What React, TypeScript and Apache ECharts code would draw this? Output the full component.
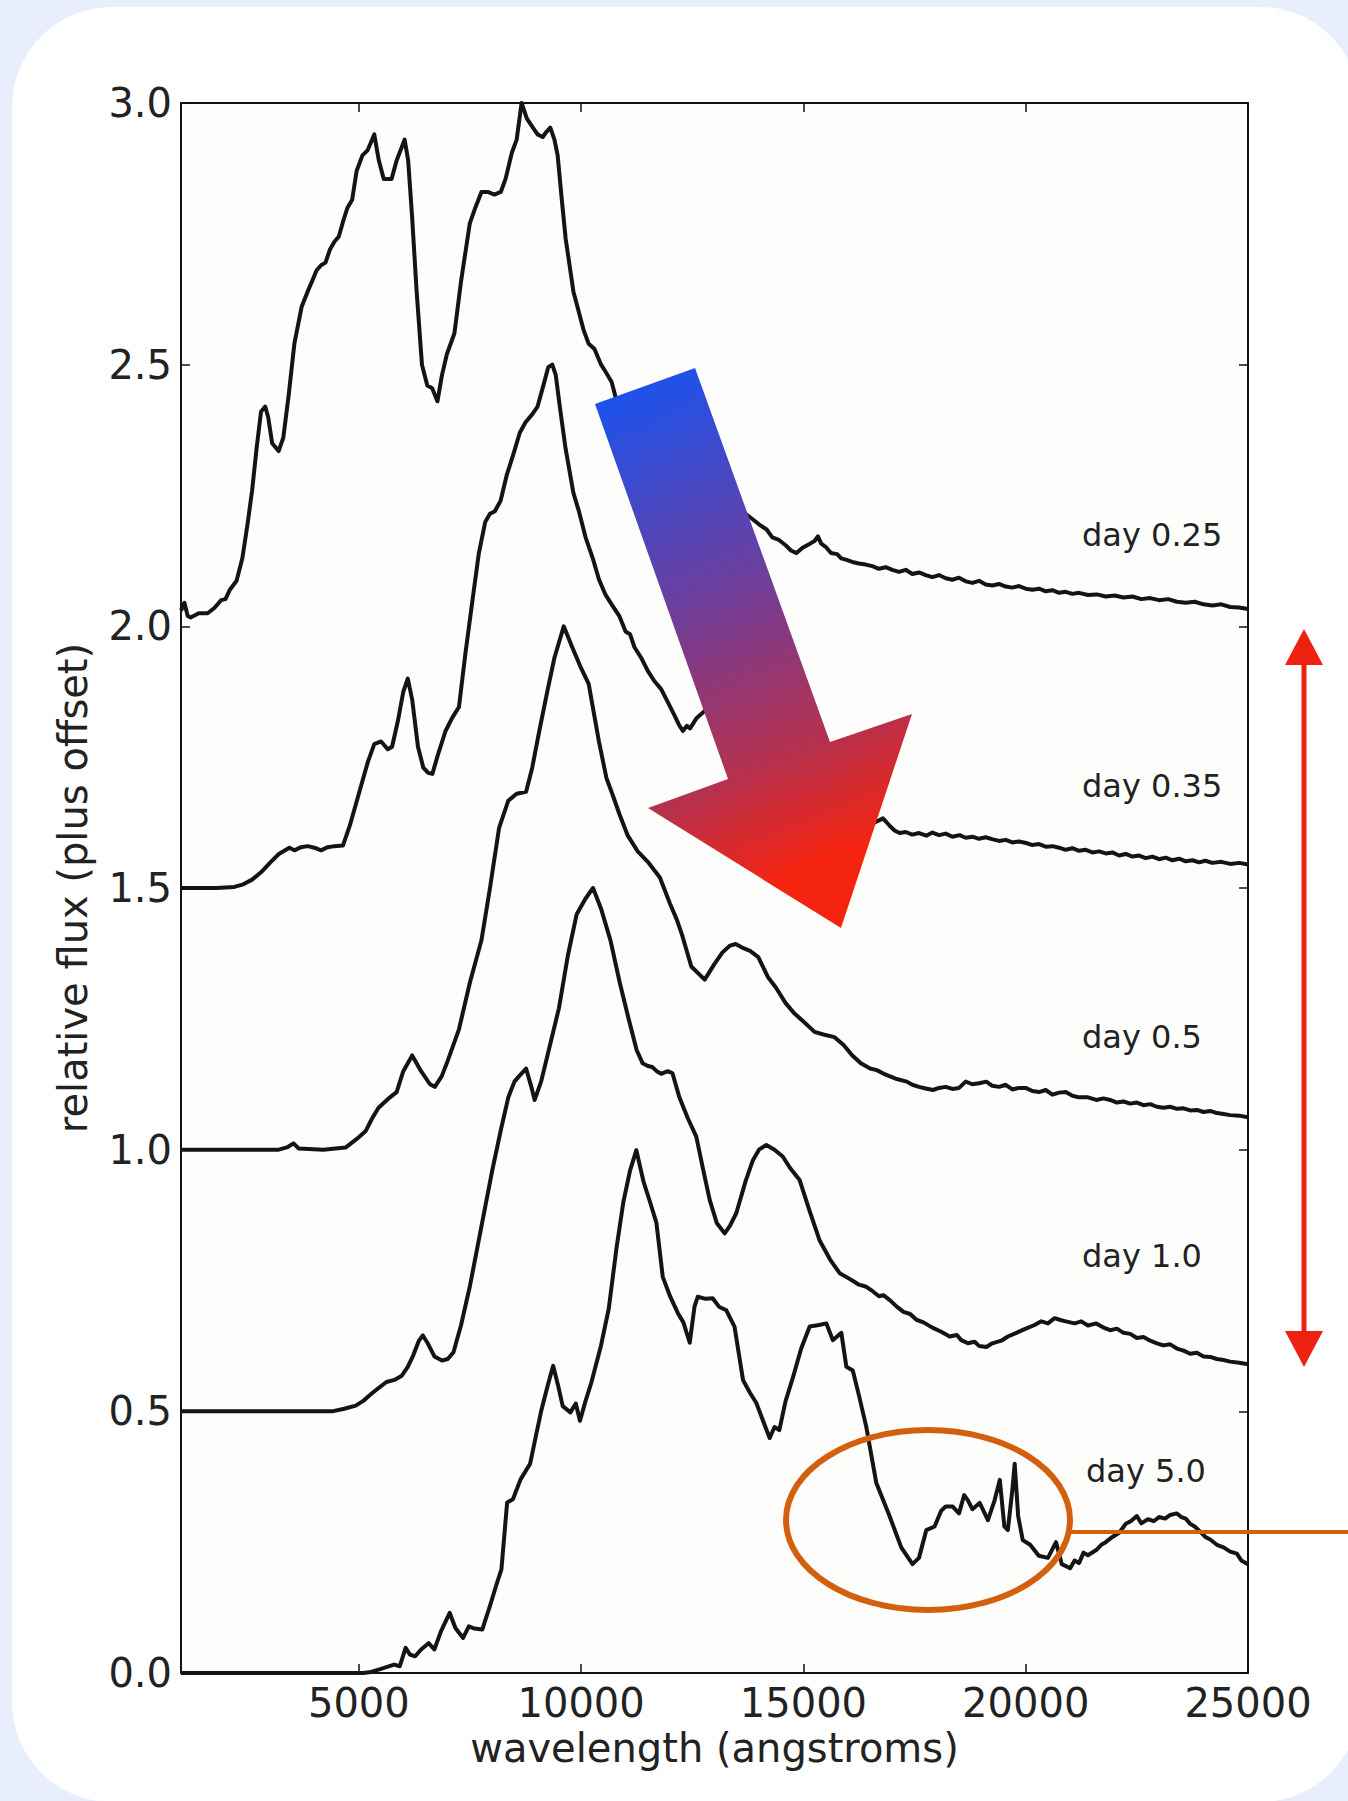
import React, { useEffect, useRef } from "react";
import * as echarts from "echarts";

// ---- data (wavelength in angstroms, relative flux plus offset) ----
const xTicks = [5000, 10000, 15000, 20000, 25000];
const dayLabels = ["day 0.25", "day 0.35", "day 0.5", "day 1.0", "day 5.0"];

const day025: [number, number][] = [
  [1000,2.03],[1077,2.045],[1150,2.02],[1217,2.017],[1400,2.025],[1600,2.025],[1750,2.035],[1904,2.05],[2000,2.052],[2100,2.07],[2250,2.087],[2380,2.13],[2498,2.196],[2600,2.26],[2700,2.34],[2800,2.41],[2894,2.42],[2960,2.40],[3050,2.35],[3196,2.335],[3300,2.36],[3420,2.44],[3550,2.54],[3712,2.61],[3850,2.64],[3950,2.66],[4048,2.68],[4150,2.69],[4250,2.695],[4350,2.72],[4450,2.735],[4550,2.745],[4650,2.775],[4745,2.80],[4850,2.815],[4950,2.87],[5081,2.90],[5200,2.91],[5347,2.94],[5450,2.89],[5560,2.855],[5737,2.855],[5850,2.89],[6030,2.93],[6110,2.89],[6200,2.78],[6300,2.64],[6420,2.50],[6540,2.46],[6650,2.455],[6768,2.43],[6870,2.48],[6980,2.52],[7150,2.56],[7300,2.66],[7496,2.77],[7620,2.80],[7758,2.83],[7900,2.83],[8050,2.825],[8193,2.83],[8300,2.855],[8442,2.905],[8550,2.93],[8661,3.0],[8780,2.97],[8900,2.955],[9020,2.94],[9136,2.935],[9220,2.945],[9307,2.953],[9400,2.93],[9472,2.90],[9560,2.82],[9653,2.74],[9740,2.69],[9826,2.64],[9950,2.60],[10060,2.565],[10170,2.54],[10300,2.53],[10450,2.50],[10560,2.485],[10686,2.467],[10800,2.43],[11100,2.38],[11500,2.33],[11900,2.30],[12400,2.27],[12900,2.25],[13300,2.24],[13566,2.23],[13700,2.215],[13850,2.205],[14000,2.195],[14173,2.185],[14300,2.17],[14450,2.165],[14600,2.155],[14720,2.145],[14845,2.14],[14980,2.15],[15150,2.158],[15250,2.163],[15326,2.172],[15400,2.158],[15500,2.152],[15620,2.14],[15760,2.138],[15850,2.13],[15971,2.127],[16100,2.123],[16250,2.12],[16400,2.118],[16550,2.115],[16700,2.11],[16850,2.113],[17000,2.108],[17150,2.104],[17300,2.108],[17450,2.1],[17600,2.103],[17750,2.098],[17900,2.094],[18050,2.098],[18200,2.092],[18350,2.089],[18500,2.093],[18650,2.086],[18800,2.083],[18950,2.087],[19100,2.08],[19250,2.078],[19400,2.081],[19550,2.076],[19700,2.074],[19850,2.077],[20000,2.072],[20150,2.07],[20300,2.072],[20450,2.067],[20600,2.069],[20750,2.064],[20900,2.066],[21050,2.062],[21200,2.064],[21400,2.06],[21600,2.061],[21800,2.057],[22000,2.059],[22200,2.055],[22400,2.057],[22600,2.052],[22800,2.054],[23000,2.05],[23200,2.052],[23400,2.047],[23600,2.045],[23800,2.047],[24000,2.042],[24200,2.04],[24400,2.042],[24600,2.037],[24800,2.036],[25000,2.033]
];

const day035: [number, number][] = [
  [1000,1.5],[1800,1.5],[2200,1.502],[2400,1.507],[2600,1.516],[2800,1.53],[3000,1.548],[3200,1.565],[3438,1.577],[3550,1.572],[3700,1.578],[3850,1.58],[4000,1.577],[4150,1.572],[4300,1.578],[4450,1.58],[4642,1.581],[4800,1.62],[5000,1.68],[5200,1.74],[5347,1.775],[5500,1.78],[5650,1.765],[5748,1.77],[5880,1.82],[6000,1.875],[6101,1.90],[6200,1.86],[6330,1.77],[6450,1.73],[6560,1.72],[6654,1.718],[6780,1.755],[6950,1.80],[7100,1.825],[7252,1.846],[7400,1.95],[7556,2.05],[7700,2.14],[7845,2.20],[7950,2.215],[8060,2.22],[8189,2.24],[8330,2.29],[8480,2.33],[8620,2.37],[8750,2.39],[8900,2.405],[9020,2.42],[9150,2.46],[9260,2.495],[9351,2.50],[9430,2.48],[9520,2.42],[9650,2.34],[9826,2.255],[9950,2.22],[10100,2.17],[10262,2.13],[10400,2.09],[10550,2.06],[10700,2.04],[10857,2.02],[11000,1.99],[11100,1.985],[11200,1.96],[11350,1.94],[11500,1.915],[11650,1.895],[11800,1.88],[11950,1.855],[12100,1.83],[12200,1.812],[12288,1.80],[12380,1.81],[12450,1.805],[12600,1.825],[12804,1.84],[13300,1.81],[14000,1.77],[14700,1.72],[15400,1.68],[16000,1.65],[16400,1.63],[16602,1.625],[16790,1.633],[16950,1.618],[17050,1.61],[17164,1.605],[17300,1.607],[17450,1.602],[17600,1.605],[17764,1.60],[17900,1.606],[18050,1.601],[18200,1.604],[18350,1.598],[18513,1.601],[18650,1.596],[18800,1.598],[18950,1.594],[19100,1.597],[19262,1.593],[19400,1.59],[19550,1.592],[19700,1.587],[19850,1.589],[20011,1.586],[20150,1.582],[20300,1.584],[20450,1.579],[20605,1.58],[20750,1.577],[20900,1.573],[21050,1.576],[21200,1.571],[21350,1.573],[21500,1.568],[21650,1.57],[21800,1.566],[21950,1.568],[22100,1.562],[22250,1.565],[22400,1.56],[22550,1.562],[22700,1.557],[22850,1.56],[23000,1.555],[23150,1.558],[23300,1.553],[23450,1.556],[23600,1.551],[23750,1.553],[23900,1.549],[24041,1.552],[24200,1.548],[24400,1.55],[24600,1.546],[24800,1.548],[25000,1.545]
];

const day05: [number, number][] = [
  [1000,1.0],[3200,1.0],[3400,1.005],[3531,1.012],[3650,1.002],[4200,1.0],[4700,1.004],[4947,1.02],[5150,1.035],[5300,1.06],[5443,1.08],[5700,1.10],[5850,1.11],[6000,1.15],[6200,1.18],[6400,1.15],[6600,1.125],[6708,1.12],[6863,1.14],[7000,1.17],[7252,1.23],[7500,1.32],[7758,1.40],[7950,1.50],[8155,1.615],[8362,1.667],[8550,1.68],[8762,1.684],[8900,1.73],[9059,1.80],[9250,1.88],[9400,1.94],[9609,2.00],[9800,1.96],[10000,1.92],[10170,1.89],[10400,1.78],[10570,1.71],[10700,1.68],[10867,1.64],[11050,1.60],[11273,1.57],[11500,1.55],[11771,1.52],[12000,1.47],[12150,1.44],[12272,1.41],[12478,1.35],[12779,1.325],[13000,1.355],[13180,1.377],[13350,1.39],[13476,1.393],[13650,1.385],[13800,1.38],[13985,1.368],[14200,1.33],[14380,1.31],[14600,1.28],[14800,1.26],[15000,1.245],[15250,1.225],[15450,1.22],[15700,1.215],[15904,1.20],[16100,1.18],[16292,1.165],[16500,1.155],[16650,1.152],[16808,1.145],[16950,1.14],[17100,1.135],[17325,1.13],[17450,1.124],[17600,1.12],[17750,1.117],[17915,1.114],[18050,1.118],[18200,1.12],[18350,1.116],[18500,1.118],[18650,1.13],[18800,1.125],[18950,1.127],[19114,1.13],[19250,1.122],[19400,1.12],[19550,1.124],[19700,1.115],[19850,1.118],[20000,1.118],[20150,1.112],[20300,1.11],[20450,1.114],[20600,1.105],[20750,1.109],[20900,1.11],[21050,1.103],[21200,1.10],[21400,1.1],[21587,1.095],[21750,1.098],[21900,1.095],[22050,1.09],[22200,1.092],[22350,1.088],[22500,1.09],[22650,1.085],[22800,1.087],[22950,1.082],[23100,1.08],[23250,1.082],[23400,1.078],[23550,1.079],[23700,1.075],[23850,1.076],[24000,1.072],[24150,1.074],[24300,1.07],[24450,1.068],[24600,1.066],[24800,1.065],[25000,1.062]
];

const day10: [number, number][] = [
  [1000,0.5],[4400,0.5],[4672,0.505],[4931,0.511],[5100,0.52],[5276,0.533],[5450,0.545],[5621,0.556],[5800,0.56],[5966,0.568],[6100,0.585],[6224,0.607],[6350,0.635],[6440,0.645],[6550,0.63],[6700,0.605],[6871,0.597],[7000,0.60],[7129,0.613],[7300,0.665],[7500,0.74],[7750,0.85],[8000,0.96],[8200,1.04],[8362,1.10],[8500,1.13],[8600,1.14],[8762,1.155],[8880,1.12],[8955,1.095],[9100,1.13],[9300,1.20],[9500,1.27],[9700,1.37],[9900,1.45],[10100,1.48],[10268,1.50],[10450,1.46],[10660,1.40],[10867,1.32],[11068,1.25],[11250,1.19],[11384,1.165],[11500,1.16],[11600,1.158],[11700,1.15],[11800,1.145],[11950,1.15],[12055,1.146],[12210,1.10],[12400,1.06],[12590,1.025],[12750,0.96],[12892,0.904],[13050,0.86],[13228,0.84],[13350,0.855],[13491,0.879],[13700,0.94],[13864,0.98],[14000,1.0],[14166,1.009],[14350,1.0],[14535,0.987],[14700,0.965],[14915,0.942],[15150,0.88],[15362,0.827],[15600,0.79],[15816,0.764],[16000,0.755],[16100,0.75],[16250,0.742],[16415,0.738],[16550,0.73],[16700,0.72],[16800,0.722],[16937,0.713],[17100,0.70],[17250,0.69],[17400,0.686],[17541,0.675],[17700,0.67],[17900,0.66],[18100,0.652],[18290,0.643],[18450,0.646],[18550,0.636],[18700,0.63],[18850,0.633],[18950,0.625],[19114,0.623],[19250,0.63],[19450,0.635],[19600,0.643],[19791,0.65],[19950,0.656],[20200,0.665],[20350,0.672],[20500,0.668],[20650,0.678],[20760,0.675],[20900,0.672],[21100,0.668],[21250,0.672],[21400,0.664],[21587,0.668],[21750,0.66],[21900,0.655],[22050,0.658],[22200,0.65],[22350,0.648],[22500,0.64],[22650,0.642],[22800,0.635],[22950,0.63],[23100,0.626],[23250,0.628],[23400,0.62],[23550,0.616],[23700,0.61],[23850,0.612],[24000,0.605],[24150,0.604],[24300,0.60],[24450,0.598],[24600,0.595],[24800,0.593],[25000,0.59]
];

const day50: [number, number][] = [
  [1000,0],[5100,0],[5276,0.002],[5500,0.008],[5793,0.016],[5922,0.013],[6052,0.048],[6150,0.035],[6267,0.032],[6400,0.045],[6569,0.057],[6698,0.045],[6850,0.08],[7043,0.115],[7172,0.086],[7345,0.067],[7474,0.089],[7600,0.085],[7776,0.083],[7948,0.128],[8100,0.17],[8207,0.198],[8336,0.326],[8466,0.332],[8638,0.37],[8853,0.40],[8983,0.453],[9100,0.50],[9250,0.55],[9371,0.587],[9480,0.55],[9586,0.51],[9759,0.498],[9880,0.515],[9974,0.482],[10100,0.52],[10233,0.556],[10448,0.626],[10621,0.696],[10793,0.81],[10950,0.90],[11100,0.96],[11242,0.999],[11400,0.94],[11550,0.90],[11694,0.86],[11836,0.757],[12000,0.72],[12174,0.688],[12300,0.67],[12443,0.631],[12550,0.70],[12624,0.719],[12800,0.715],[12959,0.716],[13100,0.70],[13266,0.693],[13450,0.662],[13641,0.56],[13800,0.535],[13941,0.516],[14100,0.48],[14241,0.449],[14350,0.47],[14458,0.464],[14600,0.52],[14768,0.566],[14950,0.62],[15141,0.662],[15350,0.665],[15517,0.668],[15661,0.636],[15853,0.65],[15966,0.585],[16110,0.578],[16250,0.53],[16415,0.47],[16640,0.363],[16937,0.30],[17200,0.24],[17454,0.208],[17600,0.22],[17764,0.273],[17950,0.28],[18099,0.31],[18200,0.318],[18358,0.318],[18500,0.305],[18616,0.34],[18700,0.33],[18800,0.313],[18965,0.325],[19150,0.292],[19300,0.33],[19417,0.369],[19520,0.28],[19598,0.273],[19700,0.35],[19752,0.40],[19830,0.30],[19933,0.254],[20100,0.245],[20295,0.224],[20500,0.22],[20682,0.25],[20812,0.208],[21000,0.20],[21100,0.215],[21200,0.21],[21300,0.23],[21400,0.225],[21586,0.235],[21700,0.245],[21800,0.25],[21950,0.26],[22103,0.268],[22250,0.285],[22362,0.29],[22500,0.3],[22600,0.286],[22750,0.294],[22878,0.29],[23000,0.298],[23136,0.295],[23250,0.302],[23395,0.305],[23500,0.298],[23600,0.295],[23700,0.285],[23800,0.28],[23900,0.272],[24041,0.26],[24150,0.255],[24300,0.245],[24450,0.24],[24600,0.232],[24750,0.228],[24850,0.215],[25000,0.208]
];

const seriesData = [day025, day035, day05, day10, day50];

export default function App() {
  const ref = useRef<HTMLDivElement>(null);

  useEffect(() => {
    document.body.style.margin = "0";
    if (!ref.current) return;
    const chart = echarts.init(ref.current, undefined, { renderer: "svg" });
    const font = "DejaVu Sans";
    const axisLineStyle = { color: "#111", width: 2 };
    const tickStyle = { color: "#111", width: 1.5 };

    const arrowGrad = new echarts.graphic.LinearGradient(0, 0, 0.25, 1, [
      { offset: 0, color: "#1155F8" },
      { offset: 0.45, color: "#6A3FA0" },
      { offset: 0.8, color: "#B8304C" },
      { offset: 1, color: "#F52410" },
    ]);

    const labelTexts = dayLabels.map((t, i) => ({
      type: "text",
      z: 50,
      x: i === 4 ? 1086 : 1082,
      y: [535, 786, 1037, 1256, 1471][i],
      style: {
        text: t,
        fill: "#222",
        fontSize: 32,
        fontFamily: font,
        verticalAlign: "middle",
        align: "left",
      },
    }));

    chart.setOption({
      animation: false,
      backgroundColor: "transparent",
      grid: {
        left: 181,
        top: 103,
        width: 1067,
        height: 1570,
        show: true,
        backgroundColor: "#FDFDFB",
        borderWidth: 0,
      },
      xAxis: [
        {
          type: "value",
          min: 1000,
          max: 25000,
          position: "bottom",
          axisLine: { show: true, onZero: false, lineStyle: axisLineStyle },
          axisTick: { show: true, inside: true, length: 9, customValues: xTicks, lineStyle: tickStyle },
          axisLabel: {
            customValues: xTicks,
            fontSize: 40,
            color: "#222",
            fontFamily: font,
            margin: 10,
            formatter: (v: number) => String(v),
          },
          splitLine: { show: false },
          name: "wavelength (angstroms)",
          nameLocation: "middle",
          nameGap: 52,
          nameTextStyle: { fontSize: 40, color: "#222", fontFamily: font },
        },
        {
          type: "value",
          min: 1000,
          max: 25000,
          position: "top",
          axisLine: { show: true, onZero: false, lineStyle: axisLineStyle },
          axisTick: { show: true, inside: true, length: 9, customValues: xTicks, lineStyle: tickStyle },
          axisLabel: { show: false },
          splitLine: { show: false },
        },
      ],
      yAxis: [
        {
          type: "value",
          min: 0,
          max: 3,
          interval: 0.5,
          position: "left",
          axisLine: { show: true, onZero: false, lineStyle: axisLineStyle },
          axisTick: { show: true, inside: true, length: 9, lineStyle: tickStyle },
          axisLabel: {
            fontSize: 40,
            color: "#222",
            fontFamily: font,
            margin: 9,
            showMinLabel: true,
            showMaxLabel: true,
            formatter: (v: number) => v.toFixed(1),
          },
          splitLine: { show: false },
          name: "relative flux (plus offset)",
          nameLocation: "middle",
          nameGap: 88,
          nameTextStyle: { fontSize: 40, color: "#222", fontFamily: font },
        },
        {
          type: "value",
          min: 0,
          max: 3,
          interval: 0.5,
          position: "right",
          axisLine: { show: true, onZero: false, lineStyle: axisLineStyle },
          axisTick: { show: true, inside: true, length: 9, lineStyle: tickStyle },
          axisLabel: { show: false },
          splitLine: { show: false },
        },
      ],
      series: seriesData.map((d, i) => ({
        type: "line",
        name: dayLabels[i],
        data: d,
        showSymbol: false,
        symbol: "none",
        smooth: false,
        lineStyle: { color: "#141414", width: 4, join: "round" },
        z: 3,
      })),
      graphic: [
        {
          type: "polygon",
          z: 100,
          shape: {
            points: [
              [595, 404],
              [695, 368],
              [830, 742],
              [912, 714],
              [841, 928],
              [648, 808],
              [728, 779],
            ],
          },
          style: { fill: arrowGrad },
        },
        {
          type: "line",
          z: 100,
          shape: { x1: 1304, y1: 655, x2: 1304, y2: 1340 },
          style: { stroke: "#EE2211", lineWidth: 5 },
        },
        {
          type: "polygon",
          z: 100,
          shape: { points: [[1304, 629], [1285, 665], [1323, 665]] },
          style: { fill: "#EE2211" },
        },
        {
          type: "polygon",
          z: 100,
          shape: { points: [[1304, 1367], [1285, 1331], [1323, 1331]] },
          style: { fill: "#EE2211" },
        },
        {
          type: "ellipse",
          z: 100,
          shape: { cx: 928, cy: 1520, rx: 142, ry: 90 },
          style: { fill: "none", stroke: "#D2600E", lineWidth: 6 },
        },
        {
          type: "line",
          z: 100,
          shape: { x1: 1070, y1: 1532, x2: 1348, y2: 1532 },
          style: { stroke: "#D2600E", lineWidth: 4 },
        },
        ...labelTexts,
      ],
    });
    return () => chart.dispose();
  }, []);

  return (
    <div
      style={{
        position: "relative",
        width: 1348,
        height: 1801,
        overflow: "hidden",
        background: "#E9EEFC",
      }}
    >
      <div
        style={{
          position: "absolute",
          left: 12,
          top: 7,
          width: 1348,
          height: 1795,
          borderRadius: 100,
          background: "#FFFFFF",
        }}
      />
      <div
        ref={ref}
        style={{ position: "absolute", left: 0, top: 0, width: 1348, height: 1801 }}
      />
    </div>
  );
}
